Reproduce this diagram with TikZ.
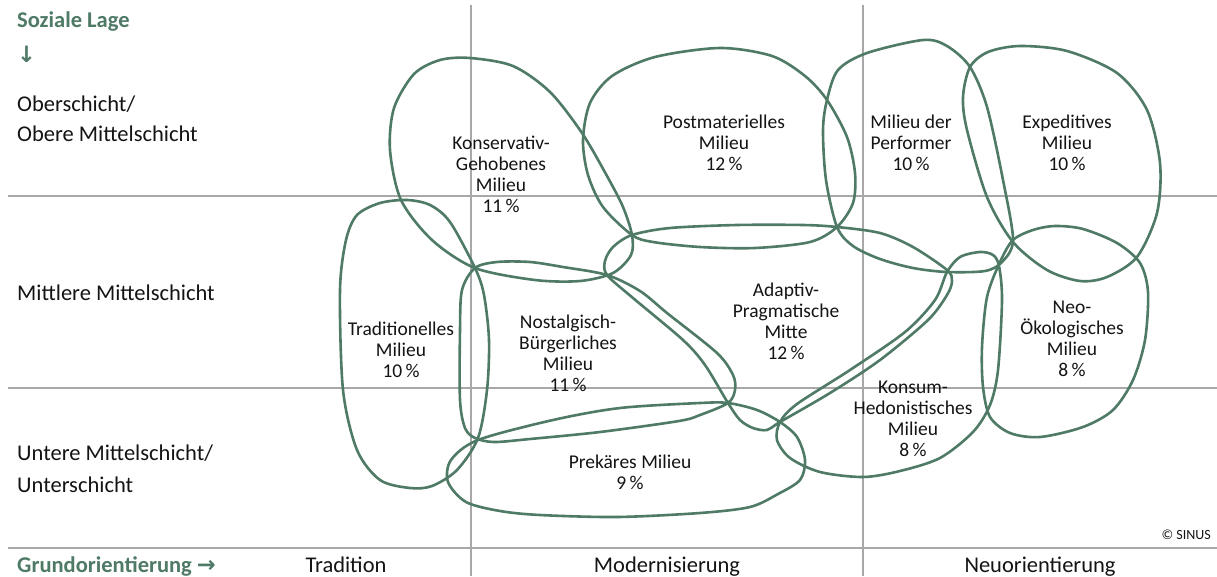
\documentclass[tikz,border=0pt]{standalone}
\usepackage{fontspec}
\setmainfont{Carlito}
\newfontfamily\arrowfont{DejaVu Sans}
\definecolor{sgreen}{HTML}{4E7A66}
\definecolor{txt}{HTML}{141414}
\definecolor{gridgray}{HTML}{A8A8A8}
\begin{document}
\begin{tikzpicture}[x=1pt,y=-1pt,
  milieu/.style={draw=sgreen, line width=2.6pt},
  gridline/.style={draw=gridgray, line width=1.1pt},
  lbl/.style={align=center, text=txt, inner sep=0pt, font=\fontsize{19.5}{21}\selectfont},
  axislbl/.style={anchor=base west, text=txt, inner sep=0pt, font=\fontsize{22.5}{30}\selectfont},
  headlbl/.style={anchor=base west, text=sgreen, inner sep=0pt, font=\fontsize{22.5}{30}\selectfont\bfseries},
  collbl/.style={anchor=base, text=txt, inner sep=0pt, font=\fontsize{22.5}{30}\selectfont}]
\useasboundingbox[fill=white] (0,0) rectangle (1217,576);
% grid
\draw[gridline] (8,196) -- (1217,196);
\draw[gridline] (8,388) -- (1217,388);
\draw[gridline] (8,548) -- (1217,548);
\draw[gridline] (471,5) -- (471,576);
\draw[gridline] (863,5) -- (863,576);
% milieus
% Konservativ-Gehobenes
\draw[milieu] plot[smooth cycle] coordinates {(470,58) (513,66) (550,92) (582,133) (607,176) (623,207) (632,235) (631,255) (613,273) (580,281) (535,280) (475,268) (432,240) (401,200) (390,150) (394,108) (414,74) (440,60)};
% Postmaterielles
\draw[milieu] plot[smooth cycle] coordinates {(583,140) (590,103) (612,76) (655,57) (720,48) (772,56) (805,76) (827,100) (847,137) (855,173) (853,203) (837,227) (810,242) (755,248) (700,247) (653,242) (632,235) (603,207) (588,175)};
% Performer
\draw[milieu] plot[smooth cycle] coordinates {(827,100) (838,70) (867,53) (923,40) (947,46) (970,67) (987,107) (1003,180) (1013,240) (1002,262) (985,271) (947,272) (913,268) (880,259) (853,246) (837,227) (826,180) (823,130)};
% Expeditives
\draw[milieu] plot[smooth cycle] coordinates {(970,67) (988,52) (1020,46) (1067,51) (1117,73) (1147,110) (1160,163) (1157,213) (1137,257) (1107,277) (1080,281) (1047,270) (1013,242) (987,197) (967,130) (963,97)};
% Traditionelles
\draw[milieu] plot[smooth cycle] coordinates {(407,200) (380,203) (357,215) (346,240) (340,290) (343,390) (357,450) (380,480) (410,488) (432,486) (457,470) (478,438) (487,390) (489,340) (484,295) (475,268) (450,222) (430,205)};
% Nostalgisch-Buergerliches
\draw[milieu] plot[smooth cycle] coordinates {(475,268) (497,262) (530,262) (563,267) (607,275) (640,291) (667,313) (717,353) (733,375) (735,390) (728,403) (700,415) (679,421) (600,432) (530,439) (494,442) (475,438) (465,428) (460,400) (460,330) (462,290)};
% Adaptiv-Pragmatische
\draw[milieu] plot[smooth cycle] coordinates {(607,275) (633,298) (683,340) (705,365) (728,403) (740,420) (753,428) (767,430) (780,422) (830,393) (880,360) (928,320) (947,295) (952,281) (947,270) (913,247) (880,233) (837,227) (803,225) (737,225) (670,228) (632,235) (613,247) (605,261)};
% Konsum-Hedonistisches
\draw[milieu] plot[smooth cycle] coordinates {(780,422) (797,404) (850,370) (905,332) (935,300) (947,272) (960,257) (980,252) (993,255) (999,266) (1002,300) (998,370) (990,405) (973,432) (940,458) (900,471) (863,477) (820,472) (790,458) (777,440)};
% Neo-Oekologisches
\draw[milieu] plot[smooth cycle] coordinates {(1013,240) (1033,230) (1055,226) (1083,229) (1117,243) (1140,263) (1148,292) (1145,340) (1133,380) (1113,410) (1083,427) (1040,437) (1010,433) (990,417) (983,387) (982,347) (987,297) (1000,262)};
% Prekaeres
\draw[milieu] plot[smooth cycle] coordinates {(478,440) (553,420) (620,408) (700,403) (728,403) (757,410) (780,422) (797,437) (805,460) (800,480) (778,494) (750,507) (700,513) (617,517) (540,515) (500,511) (466,502) (448,482) (451,460)};
% milieu labels
\node[lbl] (kg) at (501,174.5) {Konservativ-\\Gehobenes\\Milieu\\11\,\%};
\node[lbl] (pm) at (724,143) {Postmaterielles\\Milieu\\12\,\%};
\node[lbl] (pf) at (911,143) {Milieu der\\Performer\\10\,\%};
\node[lbl] (ex) at (1067,143) {Expeditives\\Milieu\\10\,\%};
\node[lbl] (tr) at (401,350) {Traditionelles\\Milieu\\10\,\%};
\node[lbl] (nb) at (568,353) {Nostalgisch-\\Bürgerliches\\Milieu\\11\,\%};
\node[lbl] (ap) at (786,321) {Adaptiv-\\Pragmatische\\Mitte\\12\,\%};
\node[lbl] (no) at (1072,339) {Neo-\\Ökologisches\\Milieu\\8\,\%};
\node[lbl] (kh) at (913,418.5) {Konsum-\\Hedonistisches\\Milieu\\8\,\%};
\node[lbl] (pr) at (630,472.5) {Prekäres Milieu\\9\,\%};
% axis labels
\node[headlbl] (sl) at (17,27) {Soziale Lage};
\node[headlbl] (slarrow) at (17,62) {\arrowfont ↓};
\node[axislbl] (o1) at (17,111) {Oberschicht/};
\node[axislbl] (o2) at (17,141) {Obere Mittelschicht};
\node[axislbl] (m1) at (17,300) {Mittlere Mittelschicht};
\node[axislbl] (u1) at (17,460) {Untere Mittelschicht/};
\node[axislbl] (u2) at (17,492) {Unterschicht};
\node[headlbl] (go) at (17,572) {Grundorientierung {\arrowfont →}};
\node[collbl] (c1) at (346,572) {Tradition};
\node[collbl] (c2) at (667,572) {Modernisierung};
\node[collbl] (c3) at (1040,572) {Neuorientierung};
\node[anchor=base east, text=txt, inner sep=0pt, font=\fontsize{14}{16}\selectfont] (cr) at (1211,539) {© SINUS};
\end{tikzpicture}
\end{document}
